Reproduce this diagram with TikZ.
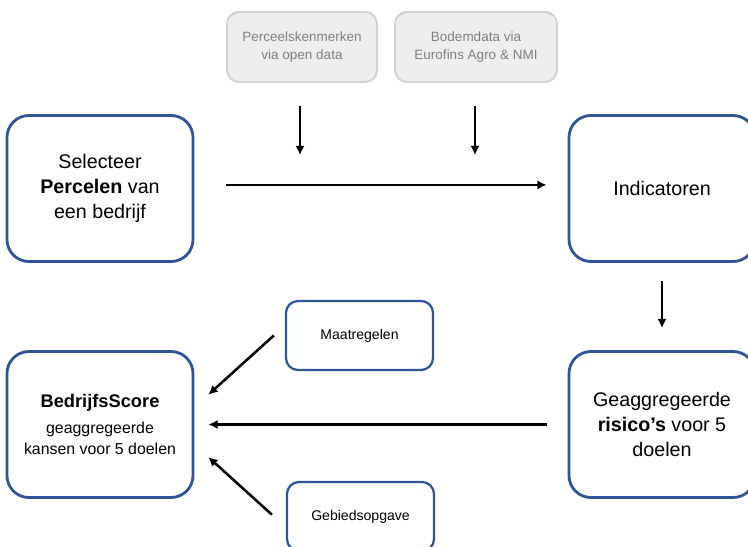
\documentclass[tikz,border=0pt]{standalone}
\usepackage{fontspec}
\setmainfont{Liberation Sans}
\usepackage{xcolor}
\usetikzlibrary{arrows.meta,calc}
\definecolor{boxblue}{RGB}{47,85,151}
\definecolor{greyfill}{RGB}{238,238,238}
\definecolor{greyline}{RGB}{210,210,210}
\definecolor{greytext}{RGB}{128,128,128}

\begin{document}
\begin{tikzpicture}[x=0.025cm, y=-0.025cm,
  bigbox/.style={draw=boxblue, line width=2pt, rounded corners=0.55cm,
    minimum width=4.65cm, minimum height=3.65cm, align=center,
    font=\fontsize{14}{17.5}\selectfont},
  smallbox/.style={draw=boxblue, line width=1.6pt, rounded corners=0.3cm,
    minimum height=1.725cm, align=center, font=\fontsize{10}{12}\selectfont},
  databox/.style={draw=greyline, fill=greyfill, line width=1.4pt, rounded corners=0.3cm,
    minimum height=1.75cm, align=center, text=greytext, font=\fontsize{9.6}{12.5}\selectfont},
  arr/.style={-{Latex[length=6.5pt,width=6.5pt]}, line width=1.8pt}]
  \useasboundingbox (0,0) rectangle (748,546);
  \clip (0,0) rectangle (748,546);
  % data sources
  \node[databox, minimum width=3.75cm] (perceel) at (302,47) {Perceelskenmerken\\via open data};
  \node[databox, minimum width=4.05cm] (bodem) at (476,47) {Bodemdata via\\Eurofins Agro \& NMI};
  % main steps
  \node[bigbox] (percelen) at (100,188.5) {Selecteer\\\textbf{Percelen} van\\een bedrijf};
  \node[bigbox] (indic) at (662,188.5) {Indicatoren};
  \node[bigbox] (risico) at (662,424.5) {Geaggregeerde\\\textbf{risico’s} voor 5\\doelen};
  \node[bigbox, font=\fontsize{11.3}{14.5}\selectfont] (score) at (100,424.5)
    {{\fontsize{13}{15}\selectfont\bfseries BedrijfsScore}\\[4pt]geaggregeerde\\kansen voor 5 doelen};
  % extra inputs
  \node[smallbox, minimum width=3.675cm] (maat) at (359.5,335.5) {Maatregelen};
  \node[smallbox, minimum width=3.675cm] (gebied) at (360.5,516.5) {Gebiedsopgave};
  % arrow ends below the data sources
  \coordinate (perceelin) at (300,155);
  \coordinate (bodemin) at (475,155);
  % connectors
  \draw[arr, shorten <=0.575cm] (perceel.south -| perceelin) -- (perceelin);
  \draw[arr, shorten <=0.575cm] (bodem.south -| bodemin) -- (bodemin);
  \draw[arr, shorten <=0.8cm, shorten >=0.525cm] ([yshift=0.09cm]percelen.east) -- ([yshift=0.09cm]indic.west);
  \draw[arr, shorten <=0.45cm, shorten >=0.55cm] (indic.south) -- (risico.north);
  \draw[arr, shorten <=0.525cm, shorten >=0.35cm] (risico.west) -- (score.east);
  \draw[arr, shorten <=0.37cm, shorten >=0.47cm] ([yshift=0.25cm]maat.west) -- ([yshift=0.43cm]score.east);
  \draw[arr, shorten <=0.47cm, shorten >=0.47cm] ([yshift=-0.27cm]gebied.west) -- ([yshift=-0.5cm]score.east);
\end{tikzpicture}
\end{document}
